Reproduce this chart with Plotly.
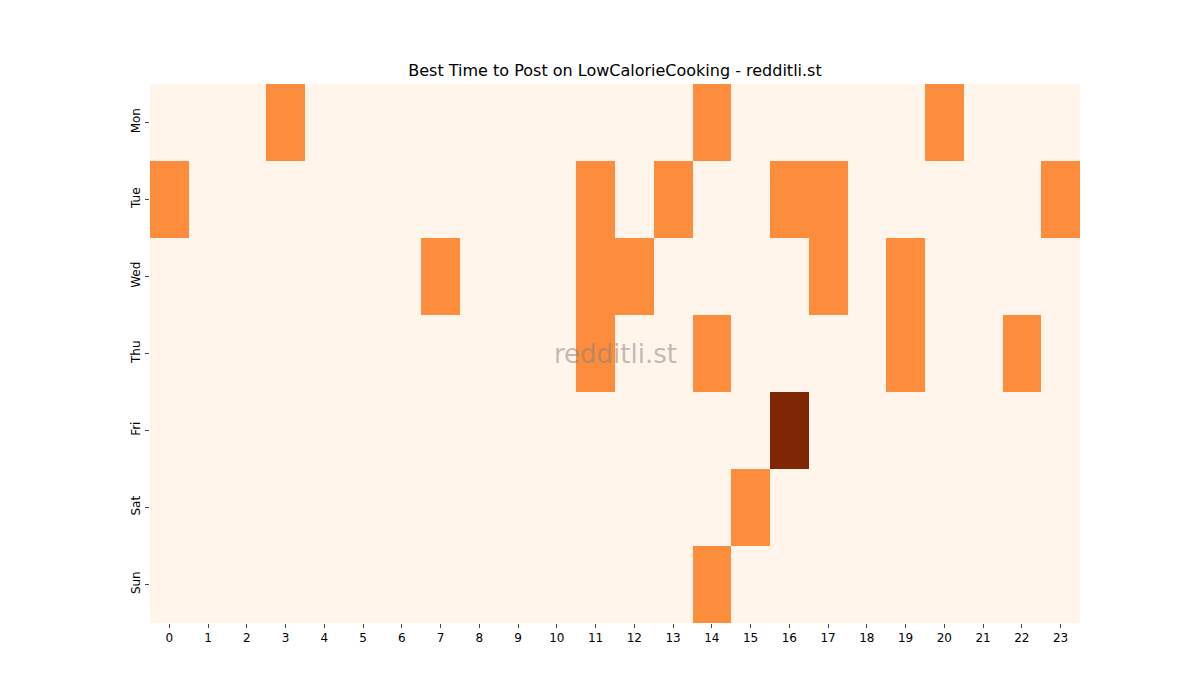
import plotly.graph_objects as go

days = ["Mon", "Tue", "Wed", "Thu", "Fri", "Sat", "Sun"]
hours = list(range(24))
active = {
    "Mon": {3: 1, 14: 1, 20: 1},
    "Tue": {0: 1, 11: 1, 13: 1, 16: 1, 17: 1, 23: 1},
    "Wed": {7: 1, 11: 1, 12: 1, 17: 1, 19: 1},
    "Thu": {11: 1, 14: 1, 19: 1, 22: 1},
    "Fri": {16: 2},
    "Sat": {15: 1},
    "Sun": {14: 1},
}
z = [[active[d].get(h, 0) for h in hours] for d in days]

fig = go.Figure(go.Heatmap(
    z=z, x=hours, y=days, zmin=0, zmax=2, showscale=False, xgap=0, ygap=0,
    colorscale=[[0, "#fff5eb"], [0.5, "#fd8d3c"], [1, "#7f2704"]],
    hoverinfo="skip"))
fig.update_layout(
    width=1200, height=700, plot_bgcolor="white", paper_bgcolor="white",
    margin=dict(l=142, r=128, t=76, b=85),
    font=dict(family="DejaVu Sans", size=12, color="black"),
    title=dict(text="Best Time to Post on LowCalorieCooking - redditli.st",
               x=(142 + 1072) / 2 / 1200, xanchor="center", y=1 - 62/700, yanchor="middle",
               font=dict(size=16)),
    xaxis=dict(tickmode="array", tickvals=hours, ticktext=[str(h) for h in hours],
               showgrid=False, zeroline=False, ticks="outside", ticklen=4,
               range=[-0.5, 23.5]),
    yaxis=dict(autorange="reversed", showgrid=False, zeroline=False, ticks="outside",
               ticklen=4, tickangle=-90),
    annotations=[dict(text="redditli.st", x=0.5, y=0.5, xref="paper", yref="paper",
                      showarrow=False, font=dict(size=26, color="rgba(128,128,128,0.5)"))],
)
fig.write_html("out.html")
